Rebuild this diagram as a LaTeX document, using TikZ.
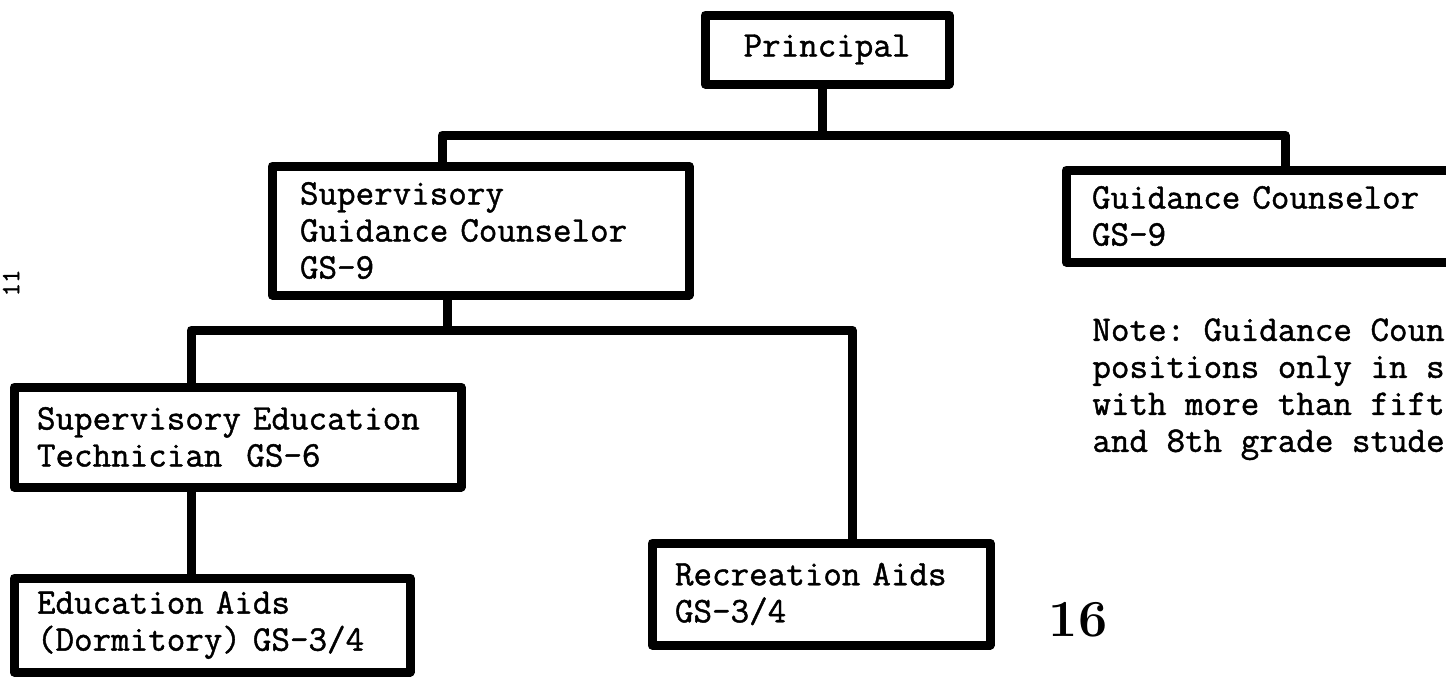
\documentclass[tikz,border=0pt]{standalone}
\usepackage{fontspec}
\setmonofont{Latin Modern Mono}[FakeBold=1.2]
\begin{document}
\begin{tikzpicture}[x=0.5pt,y=-0.5pt,
  tw/.style={font=\fontsize{18}{18.5}\selectfont\ttfamily},
  orgbox/.style={draw, line width=4.5pt, line join=round, rectangle, inner sep=0pt, align=left, tw},
  conn/.style={line width=4.5pt, line join=round}]
\clip (0,0) rectangle (1446,677);
\fill[white] (0,0) rectangle (1446,677);
% boxes
\node[orgbox, align=center, minimum width=122pt, minimum height=34.5pt, text width=100pt] (P) at (827,49.5) {Principal};
\node[orgbox, minimum width=208.5pt, minimum height=64.5pt, text width=180.5pt] (SGC) at (480.5,230.5) {Supervisory\\Guidance Counselor\\GS-9};
\node[orgbox, minimum width=202pt, minimum height=46pt, text width=176pt] (GC) at (1268,216) {Guidance Counselor\\GS-9};
\node[orgbox, minimum width=223.5pt, minimum height=50pt, text width=200.5pt] (SET) at (237.5,437) {Supervisory Education\\Technician~~GS-6};
\node[orgbox, minimum width=198pt, minimum height=47pt, text width=175pt] (EA) at (212,625) {Education Aids\\(Dormitory) GS-3/4};
\node[orgbox, minimum width=169pt, minimum height=51pt, text width=146pt] (RA) at (821,594) {Recreation Aids\\GS-3/4};
% connectors
\coordinate (j1) at (822,135);
\coordinate (a1) at (442,135);
\coordinate (a2) at (1285,135);
\coordinate (j2) at (447,330);
\coordinate (b1) at (191,330);
\coordinate (b2) at (852,330);
\draw[conn] (P.south -| j1) -- (j1);
\draw[conn] (SGC.north -| a1) -- (a1) -- (a2) -- (GC.north -| a2);
\draw[conn] (SGC.south -| j2) -- (j2);
\draw[conn] (SET.north -| b1) -- (b1) -- (b2) -- (RA.north -| b2);
\draw[conn] (SET.south -| b1) -- (EA.north -| b1);
% note
\node[tw, anchor=north west, align=left, inner sep=0pt] (note) at (1092,318)
  {Note: Guidance Coun\\positions only in s\\with more than fift\\and 8th grade stude};
% page numbers
\node[font=\fontsize{13}{13}\selectfont\ttfamily, rotate=90, inner sep=0pt] (pg11) at (11,283) {11};
\node[font=\fontsize{26}{26}\selectfont\bfseries, inner sep=0pt] (pg16) at (1078,620) {16};
\end{tikzpicture}
\end{document}
